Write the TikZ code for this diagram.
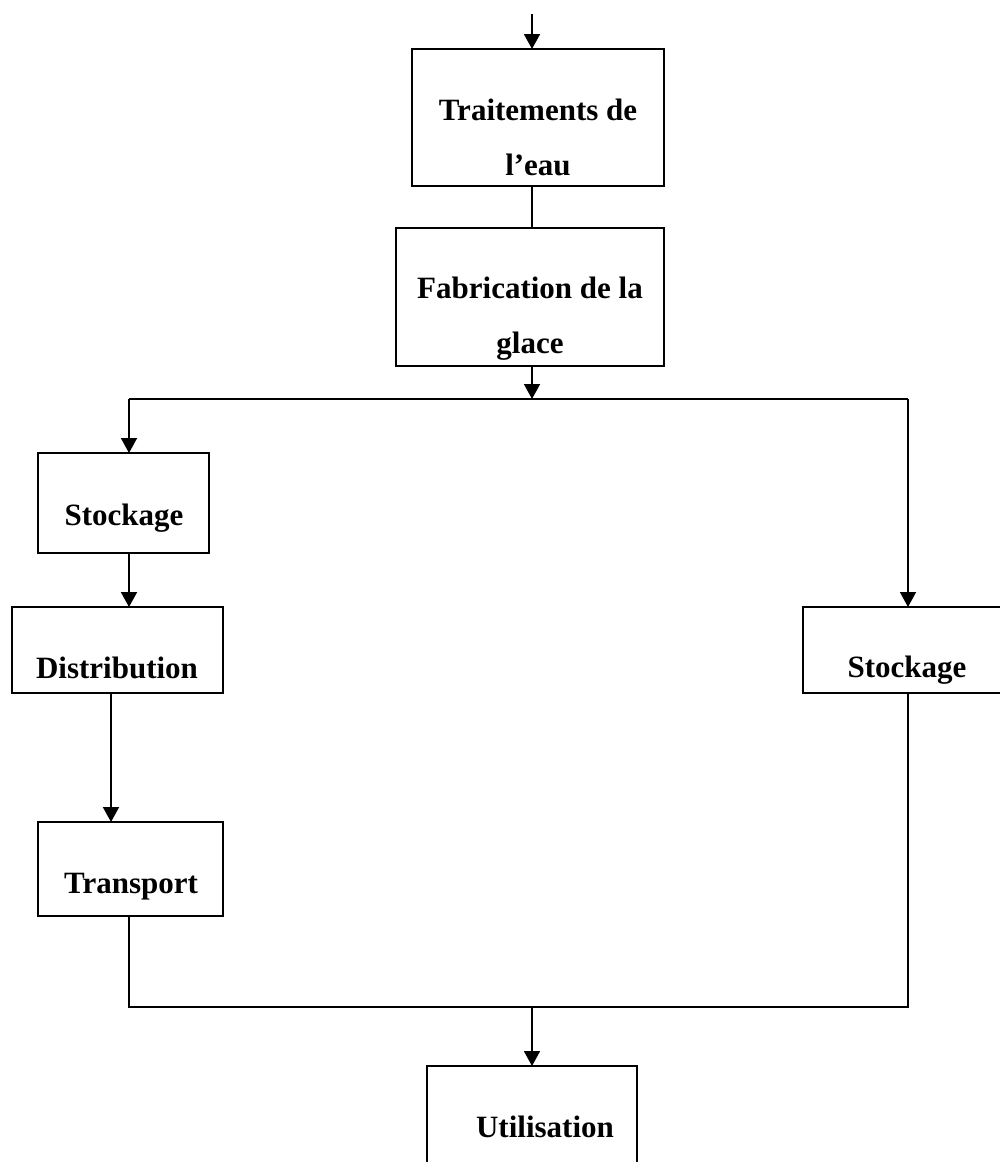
\documentclass[tikz,border=0pt]{standalone}
\usepackage{fontspec}
\setmainfont{Liberation Serif}
\usetikzlibrary{arrows.meta}
\begin{document}
\begin{tikzpicture}[x=1pt,y=-1pt,
  box/.style={draw, line width=1.9pt, rectangle, inner sep=0pt, outer sep=0pt},
  lbl/.style={anchor=base, inner sep=0pt, font=\fontsize{31}{36}\selectfont\bfseries},
  conn/.style={line width=1.9pt},
  arr/.style={conn, -{Triangle[length=15pt,width=16pt]}}]
\useasboundingbox (0,0) rectangle (1000,1162);
\clip (0,0) rectangle (1000,1162);
\fill[white] (0,0) rectangle (1000,1162);
% boxes
\node[box, minimum width=252pt, minimum height=137pt] (T)  at (538,117.5) {};
\node[box, minimum width=268pt, minimum height=138pt] (F)  at (530,297) {};
\node[box, minimum width=171pt, minimum height=100pt] (S1) at (123.5,503) {};
\node[box, minimum width=211pt, minimum height=86pt]  (D)  at (117.5,650) {};
\node[box, minimum width=185pt, minimum height=94pt]  (Tr) at (130.5,869) {};
\node[box, minimum width=210pt, minimum height=86pt]  (S2) at (908,650) {};
\node[box, minimum width=210pt, minimum height=134pt] (U)  at (532,1133) {};
% labels
\node[lbl] (tT1) at (538,120) {Traitements de};
\node[lbl] (tT2) at (538,175) {l’eau};
\node[lbl] (tF1) at (530,298) {Fabrication de la};
\node[lbl] (tF2) at (530,353) {glace};
\node[lbl] (tS1) at (124,525) {Stockage};
\node[lbl] (tD)  at (117,678) {Distribution};
\node[lbl] (tTr) at (131,893) {Transport};
\node[lbl] (tS2) at (907,677) {Stockage};
\node[lbl] (tU)  at (545,1137) {Utilisation};
% coordinates
\coordinate (top) at (532,14);
\coordinate (split) at (532,399);
\coordinate (L) at (129,399);
\coordinate (R) at (908,399);
\coordinate (dd) at (111,0);
\coordinate (J) at (532,1007);
% connectors
\draw[arr] (top) -- (top |- T.north);
\draw[conn] (T.south -| top) -- (F.north -| top);
\draw[arr] (F.south -| top) -- (split);
\draw[conn] (L) -- (R);
\draw[arr] (L) -- (L |- S1.north);
\draw[arr] (S1.south -| L) -- (D.north -| L);
\draw[arr] (D.south -| dd) -- (Tr.north -| dd);
\draw[arr] (R) -- (S2.north -| R);
\draw[conn] (Tr.south -| L) -- (L |- J) -- (J -| R) -- (S2.south -| R);
\draw[arr] (J) -- (U.north -| J);
\end{tikzpicture}
\end{document}
